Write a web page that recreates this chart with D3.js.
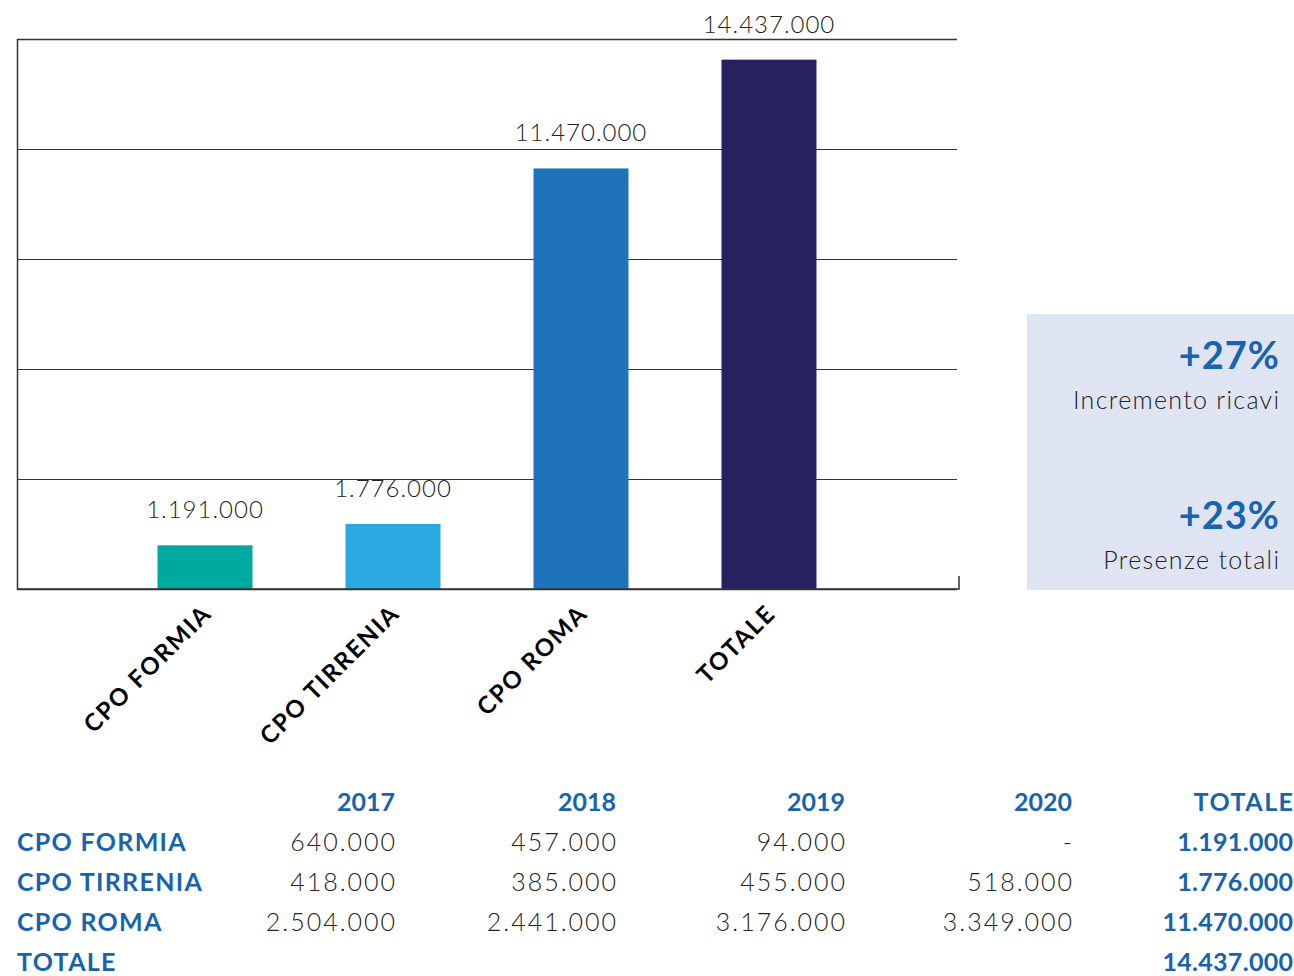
<!DOCTYPE html>
<html><head><meta charset="utf-8">
<script src="https://cdn.jsdelivr.net/npm/d3@7"></script>
<style>
html,body{margin:0;padding:0;background:#fff;overflow:hidden}
svg{display:block}
</style></head>
<body>
<svg id="c" width="1294" height="976"></svg>
<script>
const categories = ["CPO FORMIA", "CPO TIRRENIA", "CPO ROMA", "TOTALE"];
const totals = [1191000, 1776000, 11470000, 14437000];
const barColors = ["#00a99d", "#29a9e0", "#1f73bb", "#262262"];
const yTicks = [0, 3000000, 6000000, 9000000, 12000000, 15000000];
const years = ["2017", "2018", "2019", "2020", "TOTALE"];
const rowLabels = ["CPO FORMIA", "CPO TIRRENIA", "CPO ROMA", "TOTALE"];
const formiaVals = [640000, 457000, 94000, null, 1191000];
const tirreniaVals = [418000, 385000, 455000, 518000, 1776000];
const romaVals = [2504000, 2441000, 3176000, 3349000, 11470000];
const totaleVals = [null, null, null, null, 14437000];
const kpiValues = ["+27%", "+23%"];
const kpiLabels = ["Incremento ricavi", "Presenze totali"];

(function () {
const blue = "#1863ad";
const fmt = v => v == null ? "-" : d3.format(",")(v).replace(/,/g, ".");
const svg = d3.select("#c");
const font = "Lato, 'Open Sans', sans-serif";

const pL = 17, pR = 957, pT = 39, pB = 589;
const y = d3.scaleLinear().domain([0, 15000000]).range([pB, pT]);
const x = d3.scaleBand().domain(categories).range([111, 863]).paddingInner(0.4947).paddingOuter(0.2474);

// gridlines
const yAxis = d3.axisLeft(y).tickValues(yTicks).tickSize(-(pR - pL)).tickFormat("");
const gy = svg.append("g").attr("transform", `translate(${pL},0)`).call(yAxis);
gy.selectAll(".tick line").attr("stroke", "#333").attr("stroke-width", 1);
gy.select(".domain").attr("stroke", "#333").attr("stroke-width", 1.5);

// bars
svg.append("g").selectAll("rect").data(categories).join("rect")
  .attr("x", d => x(d)).attr("width", x.bandwidth())
  .attr("y", (d, i) => y(totals[i])).attr("height", (d, i) => y(0) - y(totals[i]))
  .attr("fill", (d, i) => barColors[i]);

// bottom axis
const xAxis = d3.axisBottom(x).tickSize(0).tickFormat("");
const gx = svg.append("g").attr("transform", `translate(0,${pB})`).call(xAxis);
gx.select(".domain").remove();
svg.append("path").attr("d", `M${pL},${pB}H${pR + 2}V${pB - 13}`)
  .attr("fill", "none").attr("stroke", "#333").attr("stroke-width", 1.5);

// value labels
svg.append("g").selectAll("text").data(categories).join("text")
  .attr("x", d => x(d) + x.bandwidth() / 2)
  .attr("y", (d, i) => y(totals[i]) - 27)
  .attr("text-anchor", "middle")
  .attr("font-family", font).attr("font-weight", 300).attr("font-size", 24)
  .attr("letter-spacing", 1)
  .attr("fill", "#222")
  .text((d, i) => fmt(totals[i]));

// category labels
svg.append("g").selectAll("text").data(categories).join("text")
  .attr("transform", d => `translate(${x(d) + x.bandwidth() / 2 + 8},${pB + 26}) rotate(-45)`)
  .attr("text-anchor", "end")
  .attr("font-family", font).attr("font-weight", 700).attr("font-size", 24)
  .attr("letter-spacing", 1.8)
  .attr("fill", "#000")
  .text(d => d);

// KPI box
svg.append("rect").attr("x", 1027).attr("y", 314).attr("width", 280).attr("height", 276).attr("fill", "#dfe4f2");
const kg = svg.append("g");
kpiValues.forEach((v, i) => {
  kg.append("text").attr("x", 1280).attr("y", 369 + i * 160).attr("text-anchor", "end")
    .attr("font-family", font).attr("font-weight", 700).attr("font-size", 38)
    .attr("letter-spacing", 1).attr("fill", blue).text(v);
  kg.append("text").attr("x", 1280.3).attr("y", 409 + i * 160).attr("text-anchor", "end")
    .attr("font-family", font).attr("font-weight", 300).attr("font-size", 25)
    .attr("letter-spacing", 1.3).attr("fill", "#222").text(kpiLabels[i]);
});

// table
const colRight = [395, 616, 845, 1072, 1293];
const rowsData = [formiaVals, tirreniaVals, romaVals, totaleVals];
const tg = svg.append("g").attr("font-family", font).attr("font-size", 25);
tg.selectAll("text.h").data(years).join("text").attr("class", "h")
  .attr("x", (d, i) => colRight[i] + (i === 4 ? 1.5 : 0)).attr("y", 811).attr("text-anchor", "end")
  .attr("font-weight", 700).attr("fill", blue)
  .attr("letter-spacing", (d, i) => i === 4 ? 1.5 : 0)
  .text(d => d);
rowLabels.forEach((r, ri) => {
  const yy = 851 + ri * 40;
  tg.append("text").attr("x", 17).attr("y", yy).attr("font-weight", 700)
    .attr("letter-spacing", 1.3).attr("fill", blue).text(r);
  rowsData[ri].forEach((v, ci) => {
    if (v == null && ri === 3) return;
    const isTot = ci === 4;
    const ls = isTot ? 0.3 : 2;
    tg.append("text").attr("x", colRight[ci] + ls).attr("y", yy).attr("text-anchor", "end")
      .attr("font-weight", isTot ? 700 : 300).attr("letter-spacing", ls)
      .attr("fill", isTot ? blue : "#222").text(fmt(v));
  });
});
})();
</script>
</body></html>
